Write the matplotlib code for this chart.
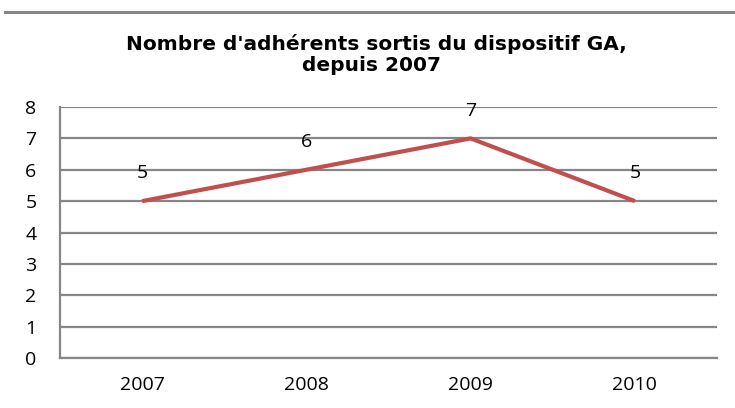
import matplotlib
matplotlib.use("Agg")
import matplotlib.pyplot as plt
from matplotlib.lines import Line2D

categories = ["2007", "2008", "2009", "2010"]
values = [5, 6, 7, 5]
yticks = [0, 1, 2, 3, 4, 5, 6, 7, 8]
title_lines = ["Nombre d'adhérents sortis du dispositif GA,", "depuis 2007"]

fig = plt.figure(figsize=(7.35, 4.08), dpi=100)
ax = fig.add_axes([60/735, 1 - 358/408, (717-60)/735, (358-107)/408])

grid_c = "#868686"
lab_font = "Open Sans"
x = list(range(len(categories)))
ax.plot(x, values, color="#C0504D", lw=3, solid_capstyle="butt", zorder=3)
for xi, v in zip(x, values):
    ax.annotate(str(v), (xi, v), xytext=(0, 20), textcoords="offset points",
                ha="center", va="center", fontsize=14, family=lab_font, color="black")

ax.set_xlim(-0.5, len(categories) - 0.5)
ax.set_ylim(0, 8)
ax.set_yticks(yticks)
ax.set_xticks(x)
ax.set_xticklabels(categories)
ax.yaxis.grid(True, color=grid_c, lw=1.6)
ax.set_axisbelow(True)
for s in ["top", "right"]:
    ax.spines[s].set_visible(False)
for s in ["left", "bottom"]:
    ax.spines[s].set_color(grid_c)
    ax.spines[s].set_linewidth(1.6)
ax.tick_params(axis="both", length=0, labelsize=14)
ax.tick_params(axis="y", pad=17)
ax.tick_params(axis="x", pad=13)
for lab in ax.get_xticklabels() + ax.get_yticklabels():
    lab.set_family(lab_font)

fig.text(376/735, 1 - 50/408, title_lines[0], ha="center", va="baseline", fontsize=14.5,
         fontweight="bold", family="DejaVu Sans")
fig.text(372/735, 1 - 71/408, title_lines[1], ha="center", va="baseline", fontsize=14.5,
         fontweight="bold", family="DejaVu Sans")

fig.add_artist(Line2D([5/735, 1], [1 - 12/408, 1 - 12/408], color=grid_c, lw=2.2,
                      transform=fig.transFigure))

fig.savefig("out.png", dpi=100)
